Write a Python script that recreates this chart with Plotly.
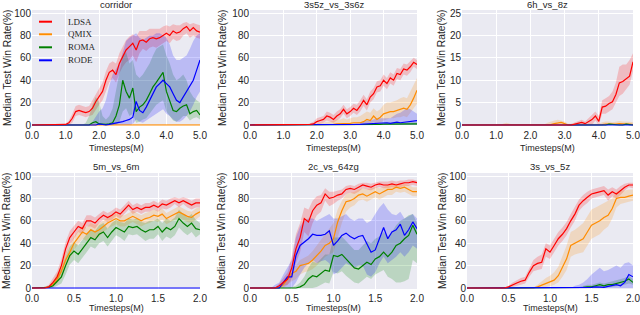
import plotly.graph_objects as go

# ---------------- data ----------------
T1 = [round(i * 0.1, 2) for i in range(51)]   # Timesteps (M), 0..5
T2 = [round(i * 0.05, 2) for i in range(41)]  # Timesteps (M), 0..2

METHODS = ["LDSA", "QMIX", "ROMA", "RODE"]
COLORS = {"LDSA": "#FF0000", "QMIX": "#FF8C00", "ROMA": "#008000", "RODE": "#0000FF"}
FILLS = {"LDSA": "rgba(255,0,0,0.2)", "QMIX": "rgba(255,140,0,0.2)",
         "ROMA": "rgba(0,128,0,0.2)", "RODE": "rgba(0,0,255,0.2)"}

# corridor
COR_LDSA = [0]*10 + [0.5,2,6,12,13,12,11,12,15,21, 25,30,40,47,49,45,55,61,67,70, 73,67,75,76,74,77,78,77,78,80, 82,80,84,82,83,86,88,84,87,84, 83]
COR_LDSA_HI = [0]*10 + [1,4,10,17,18,17,16,17,22,28, 33,38,48,55,57,55,64,70,76,79, 81,79,84,84,84,86,86,86,86,88, 89,88,90,89,89,91,92,90,91,90, 89]
COR_LDSA_LO = [0]*10 + [0,0,2,8,9,8,7,8,9,14, 18,22,30,38,42,38,46,52,56,58, 62,56,64,68,66,69,70,69,71,73, 75,73,77,75,76,80,82,78,80,78, 77]
COR_QMIX = [0]*51
COR_QMIX_HI = [0]*10 + [1]*41
COR_QMIX_LO = [0]*51
COR_ROMA = [0]*18 + [2,3,1,0.5,0.5,1,2,8,18,40, 30,24,33,12,16,18,22,28,34,38, 42,47,30,22,13,12,15,17,18,10, 12,13,9]
COR_ROMA_HI = [0]*16 + [2,8,18,25,20,8,5,8,15,30, 45,62,65,55,58,45,42,45,50,55, 62,68,70,72,62,55,45,40,42,45, 40,30,25,22,20]
COR_ROMA_LO = [0]*25 + [0,3,12,15,8,10,2,3,5,6, 10,14,18,20,22,12,8,4,3,5, 8,8,4,6,7,5]
COR_RODE = [0]*20 + [1,0.5,0,0.5,1,2,2,3,4,5, 7,21,13,11,16,22,28,34,37,40, 37,34,28,22,20,25,30,34,40,49, 58]
COR_RODE_HI = [0]*18 + [3,8,12,15,22,35,45,50,55,65, 75,78,80,82,78,76,78,80,80,82, 82,80,78,72,62,58,58,60,62,68, 75,80,82]
COR_RODE_LO = [0]*30 + [1,5,3,2,4,6,8,10,12,14, 10,8,5,3,3,5,8,12,18,25, 30]

# 3s5z_vs_3s6z
S35_LDSA = [0]*18 + [0.5,1,3,4,5,8,7,5,8,10, 14,10,12,15,13,17,22,18,25,28, 34,35,40,37,42,40,46,45,50,49, 52,56,54]
S35_LDSA_HI = [0]*17 + [0.5,1.5,3,6,7,8,12,11,9,12,14, 18,14,16,19,18,22,27,23,30,33, 39,40,45,42,47,45,51,50,55,54, 57,60,58]
S35_LDSA_LO = [0]*20 + [0.5,1,2,4,3,2,4,6, 10,6,8,11,9,12,17,13,20,23, 29,30,35,32,37,35,41,40,45,44, 47,52,50]
S35_QMIX = [0]*25 + [0.5,1,1,1.5,1,1.5,2,2,2,3, 5,4,8,5,7,10,11,12,12,13, 14,15,14,18,24,31]
S35_QMIX_HI = [0]*20 + [1,2,2,3,3, 4,5,5,6,5,6,7,7,8,10, 12,11,15,12,14,18,20,20,21,22, 24,25,24,30,36,42]
S35_QMIX_LO = [0]*35 + [1,0.5,3,1,2,4,5,6,6,7, 7,8,7,10,15,19]
S35_ROMA = [0]*35 + [0.3,0.3,0.5,0.5,0.5,0.8,0.8,1,1,1, 1,1,1,1,1,1]
S35_ROMA_HI = [0]*33 + [0.5,0.5, 1,1,1.5,1.5,1.5,2,2,2.5,2.5,2.5, 2.5,2.5,2.5,2.5,2.5,2.5]
S35_ROMA_LO = [0]*51
S35_RODE = [0]*30 + [0.2,0.3,0.5,0.5,0.8,1,1,1.5,2,2, 2,2,1.5,2,2.5,2,2.5,3,3.5,4, 4]
S35_RODE_HI = [0]*30 + [1,1.5,2,2,3,4,4,5,6,6, 6,6,6,8,10,11,13,15,14,12, 10]
S35_RODE_LO = [0]*51

# 6h_vs_8z
H6_LDSA = [0]*33 + [0.2,0.4,0.6,0.3,0.8,1.2,2.0,0.8,4.0,4.2, 4.8,5.2,6.8,9.4,9.7,10.3,10.9,14.1]
H6_LDSA_HI = [0]*32 + [0.3, 0.6,1.0,1.2,0.8,1.5,2.2,3.0,2.0,5.5,6.0, 6.5,7.5,9.5,13.0,13.5,13.5,14.5,16.0]
H6_LDSA_LO = [0]*39 + [1.0,0.0,2.5,2.5,3.0,3.5,5.0,6.5,7.0,8.0,9.0,12.0]
H6_QMIX = [0]*26 + [0.1,0.3,0.4,0.6,0.3] + [0]*10 + [0.1,0.2,0.2,0.1,0.2,0.3,0.2,0.2,0.2,0.1]
H6_QMIX_HI = [0]*12 + [0.3,0.5,0.3] + [0.1]*10 + [0.5,0.8,1.0,1.2,1.0,0.8] + [0.3]*10 + [0.6,0.8,0.8,0.6,0.7,0.9,0.8,0.8,0.7,0.6]
H6_QMIX_LO = [0]*51
H6_ROMA = [0]*43 + [0.2,0.1,0,0,0,0.2,0.1,0]
H6_ROMA_HI = [0]*42 + [0.3,0.4,0.3,0.1,0.1,0.2,0.4,0.3,0.2]
H6_ROMA_LO = [0]*51
H6_RODE = [0]*51
H6_RODE_HI = [0]*51
H6_RODE_LO = [0]*51

# 5m_vs_6m
M5_LDSA = [0,0,0,0,1,5,10,20,35,45, 50,55,53,60,60,58,62,65,63,65, 68,66,70,74,70,72,70,72,72,74, 72,75,74,76,78,76,78,76,74,76, 76]
M5_LDSA_HI = [0,0,0,1,3,9,15,26,41,51, 56,60,58,65,65,63,66,69,67,69, 72,70,74,78,74,76,74,76,76,78, 76,79,78,80,81,80,81,80,78,80, 80]
M5_LDSA_LO = [0,0,0,0,0,2,5,14,29,39, 44,50,48,55,55,53,58,61,59,61, 64,62,66,70,66,68,66,68,68,70, 68,71,70,72,75,72,75,72,70,72, 72]
M5_QMIX = [0,0,0,0,0.5,3,8,15,25,32, 40,45,50,48,52,50,52,55,58,60, 62,60,60,62,64,62,60,62,63,65, 64,66,62,64,66,68,66,64,63,66, 68]
M5_QMIX_HI = [0,0,0,0.5,2,6,13,21,31,38, 46,51,56,54,58,56,58,60,63,65, 67,65,65,67,69,67,65,67,68,70, 69,71,67,69,71,73,71,69,68,71, 72]
M5_QMIX_LO = [0,0,0,0,0,1,4,9,19,26, 34,39,44,42,46,44,46,50,53,55, 57,55,55,57,59,57,55,57,58,60, 59,61,57,59,61,63,61,59,58,61, 64]
M5_ROMA = [0,0,0,0,0.5,2,6,10,20,29, 33,30,35,40,45,43,48,50,45,50, 54,52,50,55,54,55,52,50,52,52, 55,50,54,52,55,62,58,55,58,53, 52]
M5_ROMA_HI = [0,0,0,0.5,2,5,12,17,28,37, 41,38,43,48,53,51,56,58,53,58, 61,59,58,62,61,62,59,58,60,60, 62,58,62,60,63,70,66,63,66,61, 58]
M5_ROMA_LO = [0,0,0,0,0,0,2,4,12,21, 25,22,27,32,37,35,40,42,37,42, 47,45,42,48,47,48,45,42,44,44, 48,42,46,44,47,54,50,47,50,45, 48]
M5_RODE = [0]*41
M5_RODE_HI = [0]*41
M5_RODE_LO = [0]*41

# 2c_vs_64zg
C2_LDSA = [0]*7 + [2,5,8,18,35,45,62,59,69,74, 76,84,80,81,83,84,88,89,88,90, 92,91,90,92,93,92,92,93,92,93, 94,94,95,94]
C2_LDSA_HI = [0,0,0,0,0,0,0.5, 4,9,14,28,48,58,72,70,78,82, 83,89,86,86,87,88,91,92,91,93, 94,94,93,94,95,95,95,96,95,96, 96,97,97,96]
C2_LDSA_LO = [0]*7 + [0,2,3,8,22,32,50,46,58,65, 68,78,73,75,78,80,84,85,84,86, 89,88,87,89,90,89,89,90,89,90, 91,91,92,91]
C2_QMIX = [0]*8 + [3,8,13,15,20,21,22,25,29,33, 38,40,44,59,69,77,78,80,83,84, 82,84,86,84,86,88,88,90,89,90, 88,86,86]
C2_QMIX_HI = [0]*7 + [1, 6,12,18,20,25,27,29,33,38,43, 48,52,58,70,78,84,85,86,88,89, 88,89,90,89,90,92,92,93,92,93, 92,90,90]
C2_QMIX_LO = [0]*9 + [3,6,8,12,14,15,17,20,24, 28,30,32,45,58,68,72,74,78,79, 77,79,81,79,81,83,83,86,85,86, 84,82,82]
C2_ROMA = [0]*12 + [1,3,8,11,10,13,16,15,29,28, 30,26,22,18,17,20,23,21,26,28, 32,28,32,38,40,44,47,56,48]
C2_ROMA_HI = [0]*10 + [1,2,5,10,18,24,22,26,30,30, 45,45,46,42,38,34,34,38,42,40, 44,46,50,46,50,56,60,62,65,66, 58]
C2_ROMA_LO = [0]*16 + [1,3,5,4,14,13,15,11,8,5, 4,7,10,8,12,14,16,10,8,5, 5,6,8,25,22]
C2_RODE = [0]*8 + [5,10,10,29,38,41,44,48,47,47, 48,51,38,42,47,49,46,44,46,47, 40,32,34,45,54,44,50,52,57,47, 52,59,53]
C2_RODE_HI = [0]*5 + [0,3,5, 12,18,25,45,55,60,62,62,60,62, 64,66,62,62,64,66,62,60,62,62, 58,60,66,72,76,70,66,65,68,62, 64,66,62]
C2_RODE_LO = [0]*11 + [5,12,18,22,25,22,24,25,22, 12,14,18,22,20,18,20,20,12,10, 14,22,28,22,25,28,32,28,32,38, 35]

# 3s_vs_5z
S3_LDSA = [0]*10 + [1,3,4.5,6,7,14,20,22,23,35, 32,38,44,48,53,60,66,74,78,81, 84,85,86,87,83,86,84,87,90,92, 92]
S3_LDSA_HI = [0]*9 + [0.5, 2,5,7,9,10,18,25,28,30,40, 38,44,50,54,59,66,72,79,83,86, 88,89,90,91,88,90,88,91,93,94, 94]
S3_LDSA_LO = [0]*11 + [1,2,3,4,10,15,16,17,28, 26,32,38,42,47,54,60,69,73,76, 80,81,82,83,78,82,80,83,87,90, 89]
S3_QMIX = [0]*17 + [1,2.5,4,5,7,11,18,26,38,40, 42,44,50,56,58,60,63,65,71,80, 81,81,82,83]
S3_QMIX_HI = [0]*16 + [0.5, 3,6,9,11,14,19,28,38,50,52, 55,58,64,70,72,74,76,78,80,86, 87,87,88,88]
S3_QMIX_LO = [0]*18 + [0.5,1,1.5,3,5,10,16,28,30, 31,32,38,44,46,48,52,55,62,72, 75,76,77,78]
S3_ROMA = [0]*28 + [0.5,1,1,2,3,2,3,3,4,5,6,8,5]
S3_ROMA_HI = [0]*26 + [0.5,1,2,3,3,4,5,4,5,6,7,8,9,11,8]
S3_ROMA_LO = [0]*33 + [0.5,1,1,1.5,2,3,4,3]
S3_RODE = [0]*30 + [0.5,1,1,0.5,1.5,2,3,2,5,12,10]
S3_RODE_HI = [0]*26 + [2,3,5,8,12,15,18,15,16,18,20,18,22,23,20]
S3_RODE_LO = [0]*41

TITLES = ["corridor", "3s5z_vs_3s6z", "6h_vs_8z", "5m_vs_6m", "2c_vs_64zg", "3s_vs_5z"]
XTICKS_ROW1 = [0, 1, 2, 3, 4, 5]
XTICKS_ROW2 = [0, 0.5, 1.0, 1.5, 2.0]
YTICKS = [0, 20, 40, 60, 80, 100]
YTICKS_6H = [0, 5, 10, 15, 20, 25]

PANELS = [
    (T1, {"LDSA": (COR_LDSA, COR_LDSA_LO, COR_LDSA_HI), "QMIX": (COR_QMIX, COR_QMIX_LO, COR_QMIX_HI),
          "ROMA": (COR_ROMA, COR_ROMA_LO, COR_ROMA_HI), "RODE": (COR_RODE, COR_RODE_LO, COR_RODE_HI)}),
    (T1, {"LDSA": (S35_LDSA, S35_LDSA_LO, S35_LDSA_HI), "QMIX": (S35_QMIX, S35_QMIX_LO, S35_QMIX_HI),
          "ROMA": (S35_ROMA, S35_ROMA_LO, S35_ROMA_HI), "RODE": (S35_RODE, S35_RODE_LO, S35_RODE_HI)}),
    (T1, {"LDSA": (H6_LDSA, H6_LDSA_LO, H6_LDSA_HI), "QMIX": (H6_QMIX, H6_QMIX_LO, H6_QMIX_HI),
          "ROMA": (H6_ROMA, H6_ROMA_LO, H6_ROMA_HI), "RODE": (H6_RODE, H6_RODE_LO, H6_RODE_HI)}),
    (T2, {"LDSA": (M5_LDSA, M5_LDSA_LO, M5_LDSA_HI), "QMIX": (M5_QMIX, M5_QMIX_LO, M5_QMIX_HI),
          "ROMA": (M5_ROMA, M5_ROMA_LO, M5_ROMA_HI), "RODE": (M5_RODE, M5_RODE_LO, M5_RODE_HI)}),
    (T2, {"LDSA": (C2_LDSA, C2_LDSA_LO, C2_LDSA_HI), "QMIX": (C2_QMIX, C2_QMIX_LO, C2_QMIX_HI),
          "ROMA": (C2_ROMA, C2_ROMA_LO, C2_ROMA_HI), "RODE": (C2_RODE, C2_RODE_LO, C2_RODE_HI)}),
    (T2, {"LDSA": (S3_LDSA, S3_LDSA_LO, S3_LDSA_HI), "QMIX": (S3_QMIX, S3_QMIX_LO, S3_QMIX_HI),
          "ROMA": (S3_ROMA, S3_ROMA_LO, S3_ROMA_HI), "RODE": (S3_RODE, S3_RODE_LO, S3_RODE_HI)}),
]

# ---------------- layout (pixels) ----------------
W, H = 640, 315
BOXES = [(32, 200, 10, 126), (250, 417, 10, 126), (462, 633, 10, 126),
         (32, 200, 173, 289), (250, 417, 173, 289), (467, 633, 173, 289)]
YTITLE_X = [7, 222, 441, 7, 222, 443]
TITLE_Y = [5, 5, 5, 166, 166, 166]
XTITLE_Y = [147.5, 147.5, 147.5, 307.5, 307.5, 307.5]

SANS = "Liberation Sans, Arial, sans-serif"
SERIF = "Liberation Serif, Times New Roman, serif"
TXT = "#262626"

fig = go.Figure()
layout = dict(width=W, height=H, margin=dict(l=0, r=0, t=0, b=0, autoexpand=False),
              paper_bgcolor="white", plot_bgcolor="#EAEAF2", showlegend=False)
annotations = []
shapes = []

for i, ((T, series), box) in enumerate(zip(PANELS, BOXES)):
    n = i + 1
    xa = "x" if n == 1 else f"x{n}"
    ya = "y" if n == 1 else f"y{n}"
    x0, x1, y0, y1 = box
    row1 = i < 3
    # bands
    for m in METHODS:
        mean, lo, hi = series[m]
        fig.add_trace(go.Scatter(x=list(T) + list(T)[::-1], y=list(hi) + list(lo)[::-1],
                                 fill="toself", fillcolor=FILLS[m], line=dict(width=0),
                                 mode="lines", hoverinfo="skip", xaxis=xa, yaxis=ya))
    # lines
    for m in ["QMIX", "ROMA", "RODE", "LDSA"]:
        mean, lo, hi = series[m]
        fig.add_trace(go.Scatter(x=T, y=mean, mode="lines", name=m,
                                 line=dict(color=COLORS[m], width=1.2), xaxis=xa, yaxis=ya))
    is6h = (i == 2)
    ymax = 25 if is6h else 100
    yr = [-0.0089 * ymax, 1.027 * ymax]
    xt = XTICKS_ROW1 if row1 else XTICKS_ROW2
    layout["xaxis" if n == 1 else f"xaxis{n}"] = dict(
        domain=[x0 / W, x1 / W], anchor=ya, range=[0, xt[-1]], automargin=False,
        tickvals=xt, ticktext=[f"{v:.1f}" for v in xt], ticklabeloverflow="allow",
        ticklabelstandoff=2,
        showgrid=True, gridcolor="white", gridwidth=1, zeroline=False, showline=False,
        ticks="", tickfont=dict(family=SANS, size=10, color=TXT))
    yt = YTICKS_6H if is6h else YTICKS
    layout["yaxis" if n == 1 else f"yaxis{n}"] = dict(
        domain=[1 - y1 / H, 1 - y0 / H], anchor=xa, range=yr, tickvals=yt, automargin=False,
        ticklabeloverflow="allow",
        showgrid=True, gridcolor="white", gridwidth=1, zeroline=False, showline=False,
        ticks="", tickfont=dict(family=SANS, size=10, color=TXT))
    cx = (x0 + x1) / 2 / W
    annotations.append(dict(text=TITLES[i], x=cx, y=1 - TITLE_Y[i] / H, xref="paper", yref="paper",
                            showarrow=False, xanchor="center", yanchor="middle",
                            font=dict(family=SANS, size=9.5, color=TXT)))
    annotations.append(dict(text="Timesteps(M)", x=cx, y=1 - XTITLE_Y[i] / H, xref="paper", yref="paper",
                            showarrow=False, xanchor="center", yanchor="middle",
                            font=dict(family=SANS, size=9, color=TXT)))
    annotations.append(dict(text="Median Test Win Rate(%)", x=YTITLE_X[i] / W, y=1 - (y0 + y1) / 2 / H,
                            xref="paper", yref="paper", showarrow=False, textangle=-90,
                            xanchor="center", yanchor="middle",
                            font=dict(family=SANS, size=10.3, color=TXT)))

# legend (inside corridor panel)
LEG_Y = [21.7, 34.3, 47.3, 60.3]
for m, ly in zip(METHODS, LEG_Y):
    shapes.append(dict(type="line", xref="paper", yref="paper", x0=39 / W, x1=52 / W,
                       y0=1 - ly / H, y1=1 - ly / H, line=dict(color=COLORS[m], width=2)))
    annotations.append(dict(text=m, x=65.5 / W, y=1 - ly / H, xref="paper", yref="paper",
                            showarrow=False, xanchor="left", yanchor="middle",
                            font=dict(family=SERIF, size=9, color=TXT)))

layout["annotations"] = annotations
layout["shapes"] = shapes
fig.update_layout(**layout)
fig.write_html("out.html", config={"displayModeBar": False},
               post_script="document.body.style.margin='0';document.body.style.overflow='hidden';")
